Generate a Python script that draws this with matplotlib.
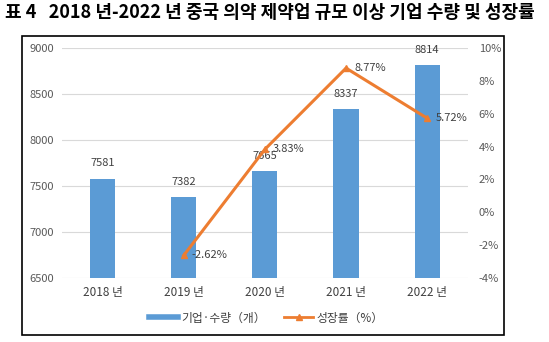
import matplotlib
matplotlib.use('Agg')
import matplotlib.pyplot as plt
from matplotlib.patches import Rectangle
from matplotlib.lines import Line2D

plt.rcParams['font.family'] = ['Noto Sans CJK KR', 'DejaVu Sans']

# data
years = ['2018 년', '2019 년', '2020 년', '2021 년', '2022 년']
counts = [7581, 7382, 7665, 8337, 8814]
growth_years = ['2019 년', '2020 년', '2021 년', '2022 년']
growth = [-2.62, 3.83, 8.77, 5.72]
left_ticks = [6500, 7000, 7500, 8000, 8500, 9000]
right_ticks = [-4, -2, 0, 2, 4, 6, 8, 10]

bar_c = '#5B9BD5'
line_c = '#ED7D31'
txt_c = '#595959'

fig = plt.figure(figsize=(5.49, 3.42), dpi=100)
ax = fig.add_axes([0.113, 0.187, 0.739, 0.673])

x = list(range(len(years)))
ax.bar(x, [c - 6500 for c in counts], bottom=6500, width=0.31, color=bar_c, zorder=2)
for xi, c in zip(x, counts):
    ax.text(xi, c + 110, str(c), ha='center', va='bottom', fontsize=8, color='#404040')

ax.set_ylim(6500, 9000)
ax.set_xlim(-0.5, 4.5)
ax.set_yticks(left_ticks)
ax.set_yticklabels([str(t) for t in left_ticks], fontsize=8, color=txt_c)
ax.set_xticks(x)
ax.set_xticklabels(years, fontsize=8.5, color='#404040')
ax.grid(axis='y', color='#D9D9D9', linewidth=0.8, zorder=0)
ax.tick_params(length=0, pad=6)
for s in ax.spines.values():
    s.set_visible(False)

ax2 = ax.twinx()
gx = [years.index(g) for g in growth_years]
ax2.plot(gx, growth, color=line_c, linewidth=2.2, marker='^', markersize=5, zorder=3)
for xi, g in zip(gx, growth):
    ax2.text(xi + 0.1, g, '%.2f%%' % g, ha='left', va='center', fontsize=8, color='#404040')
ax2.set_ylim(-4, 10)
ax2.set_yticks(right_ticks)
ax2.set_yticklabels(['%d%%' % t for t in right_ticks], fontsize=8, color=txt_c)
ax2.tick_params(length=0, pad=8)
for s in ax2.spines.values():
    s.set_visible(False)

handles = [Line2D([0], [0], color=bar_c, linewidth=4),
           Line2D([0], [0], color=line_c, linewidth=2, marker='^', markersize=5)]
fig.legend(handles, ['기업·수량（개）', '성장률（%）'], loc='center', bbox_to_anchor=(0.485, 0.07),
           ncol=2, frameon=False, fontsize=8.5, handlelength=2.5, columnspacing=1.5,
           handletextpad=0.3, labelcolor='#404040')

# outer frame
fig.patches.append(Rectangle((0.040, 0.020), 0.878, 0.875, transform=fig.transFigure,
                             fill=False, edgecolor='black', linewidth=1.2))

fig.text(0.01, 0.962, '표 4   2018 년-2022 년 중국 의약 제약업 규모 이상 기업 수량 및 성장률',
         ha='left', va='center', fontsize=13, fontweight='bold')

fig.savefig('out.png', dpi=100)
